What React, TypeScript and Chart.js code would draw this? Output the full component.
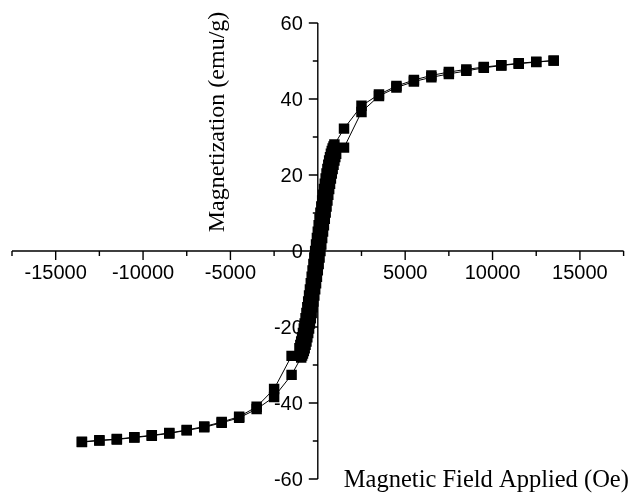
import { useEffect, useRef } from "react";
import { Chart, registerables } from "chart.js";

Chart.register(...registerables);

// Descending branch of the hysteresis loop (field swept from +13.5 kOe down to -13.5 kOe)
const fieldDown = [
  13500, 12500, 11500, 10500, 9500, 8500, 7500, 6500, 5500, 4500, 3500, 2500, 1500,
  950, 900, 850, 800, 750, 700, 650, 600, 550, 500, 450, 400, 350, 300, 250, 200, 150, 100, 50, 0,
  -50, -100, -150, -200, -250, -300, -350, -400, -450, -500, -550, -600, -650, -700, -750, -800, -850,
  -900, -950, -1000, -1050,
  -1500, -2500, -3500, -4500, -5500, -6500, -7500, -8500, -9500, -10500, -11500, -12500, -13500,
];
const momentDown = [
  50.1, 49.8, 49.4, 48.9, 48.4, 47.8, 47.1, 46.2, 45.0, 43.4, 41.2, 38.2, 32.2,
  28.0, 27.5, 27.0, 26.3, 25.6, 24.7, 23.8, 22.7, 21.6, 20.4, 19.1, 17.7, 16.3, 14.8, 13.3, 11.7, 10.1, 8.5, 6.8, 5.1,
  3.4, 1.7, 0, -1.7, -3.4, -5.1, -6.8, -8.5, -10.1, -11.7, -13.3, -14.8, -16.3, -17.7, -19.1, -20.4, -21.6,
  -22.7, -23.8, -24.7, -25.6,
  -27.6, -36.3, -41.0, -43.6, -45.0, -46.2, -47.1, -47.9, -48.5, -49.0, -49.5, -49.8, -50.2,
];

// Ascending branch (field swept back from -13.5 kOe up to +13.5 kOe)
const fieldUp = [
  -13500, -12500, -11500, -10500, -9500, -8500, -7500, -6500, -5500, -4500, -3500, -2500, -1500,
  -950, -900, -850, -800, -750, -700, -650, -600, -550, -500, -450, -400, -350, -300, -250, -200, -150, -100, -50, 0,
  50, 100, 150, 200, 250, 300, 350, 400, 450, 500, 550, 600, 650, 700, 750, 800, 850,
  900, 950, 1000, 1050,
  1500, 2500, 3500, 4500, 5500, 6500, 7500, 8500, 9500, 10500, 11500, 12500, 13500,
];
const momentUp = [
  -50.3, -49.9, -49.6, -49.1, -48.6, -48.0, -47.2, -46.4, -45.2, -43.9, -41.6, -38.4, -32.6,
  -28.0, -27.5, -27.0, -26.3, -25.6, -24.7, -23.8, -22.7, -21.6, -20.4, -19.1, -17.7, -16.3, -14.8, -13.3, -11.7, -10.1, -8.5, -6.8, -5.1,
  -3.4, -1.7, 0, 1.7, 3.4, 5.1, 6.8, 8.5, 10.1, 11.7, 13.3, 14.8, 16.3, 17.7, 19.1, 20.4, 21.6,
  22.7, 23.8, 24.7, 25.6,
  27.2, 36.6, 40.8, 43.0, 44.6, 45.7, 46.6, 47.4, 48.2, 48.8, 49.3, 49.7, 50.1,
];

const xMajorTicks = [-15000, -10000, -5000, 5000, 10000, 15000];
const xMinorTicks = [-17500, -12500, -7500, -2500, 2500, 7500, 12500, 17500];
const yMajorTicks = [-60, -40, -20, 0, 20, 40, 60];
const yMinorTicks = [-50, -30, -10, 10, 30, 50];

const xTitle = "Magnetic Field Applied (Oe)";
const yTitle = "Magnetization (emu/g)";

const TICK_FONT = "20px 'Liberation Sans', Arial, sans-serif";
const X_TITLE_FONT = "24.5px 'Liberation Serif', 'Times New Roman', serif";
const Y_TITLE_FONT = "24px 'Liberation Serif', 'Times New Roman', serif";

// Axes that cross at the origin, with long major and short minor ticks
const crossedAxes = {
  id: "crossedAxes",
  beforeDatasetsDraw(chart: any) {
    const { ctx, chartArea } = chart;
    const xs = chart.scales.x;
    const ys = chart.scales.y;
    const x0 = xs.getPixelForValue(0);
    const y0 = ys.getPixelForValue(0);

    ctx.save();
    ctx.strokeStyle = "#000";
    ctx.fillStyle = "#000";
    ctx.lineWidth = 1.4;
    ctx.beginPath();
    ctx.moveTo(chartArea.left, y0);
    ctx.lineTo(chartArea.right, y0);
    ctx.moveTo(x0, ys.getPixelForValue(60));
    ctx.lineTo(x0, ys.getPixelForValue(-60));
    for (const v of xMajorTicks) {
      const p = xs.getPixelForValue(v);
      ctx.moveTo(p, y0);
      ctx.lineTo(p, y0 + 9);
    }
    for (const v of xMinorTicks) {
      const p = xs.getPixelForValue(v);
      ctx.moveTo(p, y0);
      ctx.lineTo(p, y0 + 5);
    }
    for (const v of yMajorTicks) {
      const p = ys.getPixelForValue(v);
      ctx.moveTo(x0, p);
      ctx.lineTo(x0 - 9, p);
    }
    for (const v of yMinorTicks) {
      const p = ys.getPixelForValue(v);
      ctx.moveTo(x0, p);
      ctx.lineTo(x0 - 5, p);
    }
    ctx.stroke();

    ctx.font = TICK_FONT;
    ctx.textAlign = "center";
    ctx.textBaseline = "alphabetic";
    for (const v of xMajorTicks) {
      ctx.fillText(String(v), xs.getPixelForValue(v), y0 + 28);
    }
    ctx.textAlign = "right";
    ctx.textBaseline = "middle";
    for (const v of yMajorTicks) {
      ctx.fillText(String(v), x0 - 15, ys.getPixelForValue(v) + 1);
    }

    ctx.font = X_TITLE_FONT;
    ctx.textAlign = "left";
    ctx.textBaseline = "alphabetic";
    ctx.fillText(xTitle, x0 + 26, chartArea.bottom + 8);

    ctx.font = Y_TITLE_FONT;
    ctx.translate(x0 - 100, chartArea.top + 99);
    ctx.rotate(-Math.PI / 2);
    ctx.textAlign = "center";
    ctx.textBaseline = "middle";
    ctx.fillText(yTitle, 0, 0);
    ctx.restore();
  },
};

export default function App() {
  const canvasRef = useRef<HTMLCanvasElement | null>(null);

  useEffect(() => {
    const canvas = canvasRef.current;
    if (!canvas) return;
    const loop = [
      ...fieldDown.map((h, i) => ({ x: h, y: momentDown[i] })),
      ...fieldUp.map((h, i) => ({ x: h, y: momentUp[i] })),
    ];
    const chart = new Chart(canvas, {
      type: "scatter",
      data: {
        datasets: [
          {
            data: loop,
            showLine: true,
            borderColor: "#000",
            borderWidth: 1,
            backgroundColor: "#000",
            pointStyle: "rect",
            pointRadius: 7.4,
            pointBorderWidth: 0,
            pointHoverRadius: 7.4,
          },
        ],
      },
      options: {
        animation: false,
        responsive: false,
        devicePixelRatio: 1,
        layout: { padding: { left: 12, right: 1, top: 23, bottom: 15 } },
        plugins: { legend: { display: false }, tooltip: { enabled: false } },
        scales: {
          x: { type: "linear", min: -17500, max: 17500, display: false },
          y: { type: "linear", min: -60, max: 60, display: false },
        },
      },
      plugins: [crossedAxes],
    });
    return () => chart.destroy();
  }, []);

  return (
    <div style={{ position: "fixed", left: 0, top: 0, width: 631, height: 494, background: "#fff" }}>
      <canvas ref={canvasRef} width={631} height={494} style={{ display: "block" }} />
    </div>
  );
}
